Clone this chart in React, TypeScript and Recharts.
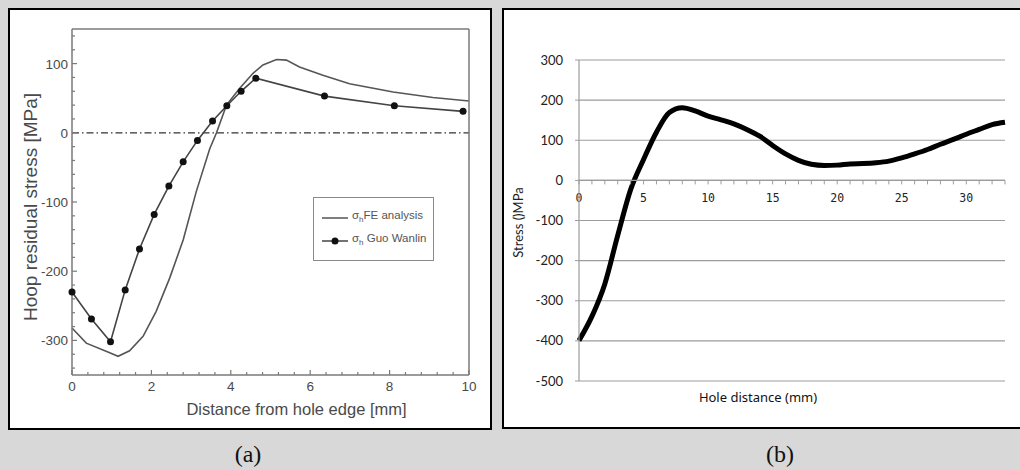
import React from "react";
import {
  LineChart,
  Line,
  XAxis,
  YAxis,
  CartesianGrid,
  ReferenceLine,
  Legend,
} from "recharts";

// ---- panel (a): hoop residual stress ----
const FE_X = [0, 0.36, 0.95, 1.16, 1.45, 1.79, 2.12, 2.46, 2.8, 3.13, 3.47, 3.64, 3.89, 4.22, 4.56, 4.81, 5.15, 5.4, 5.73, 6.32, 6.99, 8.09, 9.09, 10];
const FE_Y = [-282, -304, -318, -323, -315, -294, -258, -210, -155, -85, -23, 0, 40, 64, 86, 98, 106, 105, 95, 83, 71, 59, 51, 46];
const GUO_X = [0, 0.49, 0.97, 1.34, 1.7, 2.07, 2.44, 2.8, 3.16, 3.54, 3.9, 4.26, 4.63, 6.36, 8.12, 9.85];
const GUO_Y = [-230, -269, -302, -227, -168, -118, -77, -42, -11, 17, 39, 60, 79, 53, 39, 31];
const A_X_MAJOR = [0, 2, 4, 6, 8, 10];
const A_Y_MAJOR = [-300, -200, -100, 0, 100];
const A_X_MINOR_STEP = 0.4;
const A_Y_MINOR_STEP = 20;

// ---- panel (b): stress vs hole distance ----
const B_X = [0, 1, 2, 3, 4, 5, 6, 7, 8, 9, 10, 11, 12, 13, 14, 15, 16, 17, 18, 19, 20, 21, 22, 23, 24, 25, 26, 27, 28, 29, 30, 31, 32, 33];
const B_Y = [-399, -339, -258, -137, -23, 52, 120, 169, 181, 173, 160, 151, 141, 127, 110, 87, 66, 50, 40, 37, 38, 41, 42, 44, 48, 56, 66, 77, 90, 102, 115, 127, 139, 145];
const B_Y_TICKS = [-500, -400, -300, -200, -100, 0, 100, 200, 300];
const B_X_LABELS = ["0", "5", "10", "15", "20", "25", "30"];

const feData = FE_X.map((x, i) => ({ x, y: FE_Y[i] }));
const guoData = GUO_X.map((x, i) => ({ x, y: GUO_Y[i] }));
const bData = B_X.map((x, i) => ({ x, y: B_Y[i] }));

const steps = (lo: number, hi: number, step: number) => {
  const out: number[] = [];
  for (let v = lo; v <= hi + 1e-9; v += step) out.push(Math.round(v * 1000) / 1000);
  return out;
};
const aXTicks = steps(0, 10, A_X_MINOR_STEP);
const aYTicks = steps(-340, 140, A_Y_MINOR_STEP);

const A_FONT = "'Liberation Sans', Arial, sans-serif";
const A_INK = "#4a4a4a";
const A_AXIS = "#7a7a7a";

// box-style ticks pointing into the plot
const BoxTick = (props: any) => {
  const { x, y, payload, side, majors, showLabel } = props;
  const v = payload.value;
  const major = majors.includes(v);
  const len = major ? 5 : 3;
  let line;
  let label = null;
  if (side === "bottom") {
    line = <line x1={x} x2={x} y1={y} y2={y - len} stroke={A_AXIS} strokeWidth={1.2} />;
    if (showLabel && major)
      label = (
        <text x={x} y={y + 16} textAnchor="middle" fontSize={13.5} fontFamily={A_FONT} fill={A_INK}>
          {v}
        </text>
      );
  } else if (side === "top") {
    line = <line x1={x} x2={x} y1={y} y2={y + len} stroke={A_AXIS} strokeWidth={1.2} />;
  } else if (side === "left") {
    line = <line x1={x} x2={x + len} y1={y} y2={y} stroke={A_AXIS} strokeWidth={1.2} />;
    if (showLabel && major)
      label = (
        <text x={x - 4} y={y + 5} textAnchor="end" fontSize={13.5} fontFamily={A_FONT} fill={A_INK}>
          {v}
        </text>
      );
  } else {
    line = <line x1={x} x2={x - len} y1={y} y2={y} stroke={A_AXIS} strokeWidth={1.2} />;
  }
  return (
    <g>
      {line}
      {label}
    </g>
  );
};

const RotLabel = (props: any) => {
  const { viewBox, text, dx = 0, dy = 0, size, family, color } = props;
  const cx = viewBox.x + dx;
  const cy = viewBox.y + viewBox.height / 2 + dy;
  return (
    <text
      x={cx}
      y={cy}
      transform={`rotate(-90 ${cx} ${cy})`}
      textAnchor="middle"
      dominantBaseline="central"
      fontSize={size}
      fontFamily={family}
      fill={color}
    >
      {text}
    </text>
  );
};

const BottomLabelA = (props: any) => {
  const { viewBox, text } = props;
  const cx = viewBox.x + viewBox.width / 2 + 26;
  const cy = viewBox.y + 34;
  return (
    <text x={cx} y={cy} textAnchor="middle" dominantBaseline="central" fontSize={16.5} fontFamily={A_FONT} fill={A_INK}>
      {text}
    </text>
  );
};

const LegendBoxA = () => (
  <div
    style={{
      width: 121,
      height: 64,
      boxSizing: "border-box",
      border: "1px solid #8a8a8a",
      background: "#fff",
      fontFamily: A_FONT,
      fontSize: 11.5,
      color: "#555",
      position: "relative",
    }}
  >
    <svg width={28} height={10} style={{ position: "absolute", left: 8, top: 15 }}>
      <line x1={0} x2={26} y1={5} y2={5} stroke="#555" strokeWidth={1.5} />
    </svg>
    <div style={{ position: "absolute", left: 38, top: 11, whiteSpace: "nowrap" }}>
      σ<sub style={{ fontSize: 8 }}>h</sub>FE analysis
    </div>
    <svg width={28} height={10} style={{ position: "absolute", left: 8, top: 38 }}>
      <line x1={0} x2={26} y1={5} y2={5} stroke="#444" strokeWidth={1.5} />
      <circle cx={13} cy={5} r={3.5} fill="#111" />
    </svg>
    <div style={{ position: "absolute", left: 38, top: 34, whiteSpace: "nowrap" }}>
      σ<sub style={{ fontSize: 8 }}>h</sub> Guo Wanlin
    </div>
  </div>
);

function ChartA() {
  return (
    <LineChart width={500} height={440} margin={{ top: 9, right: 11, bottom: 35, left: 22 }}>
      <XAxis
        xAxisId={0}
        type="number"
        dataKey="x"
        domain={[0, 10]}
        ticks={aXTicks}
        interval={0}
        tickSize={0}
        tickMargin={0}
        height={30}
        axisLine={{ stroke: A_AXIS, strokeWidth: 1.5 }}
        tickLine={false}
        tick={<BoxTick side="bottom" majors={A_X_MAJOR} showLabel />}
        label={<BottomLabelA text="Distance from hole edge [mm]" />}
      />
      <XAxis
        xAxisId="top"
        orientation="top"
        type="number"
        dataKey="x"
        domain={[0, 10]}
        ticks={aXTicks}
        interval={0}
        tickSize={0}
        tickMargin={0}
        height={20}
        axisLine={{ stroke: A_AXIS, strokeWidth: 1.5 }}
        tickLine={false}
        tick={<BoxTick side="top" majors={A_X_MAJOR} />}
      />
      <YAxis
        yAxisId={0}
        type="number"
        domain={[-350, 150]}
        ticks={aYTicks}
        interval={0}
        tickSize={0}
        tickMargin={0}
        width={50}
        axisLine={{ stroke: A_AXIS, strokeWidth: 1.5 }}
        tickLine={false}
        tick={<BoxTick side="left" majors={A_Y_MAJOR} showLabel />}
        label={
          <RotLabel
            text="Hoop residual stress [MPa]"
            dx={8}
            dy={5}
            size={19}
            family={A_FONT}
            color={A_INK}
          />
        }
      />
      <YAxis
        yAxisId="right"
        orientation="right"
        type="number"
        domain={[-350, 150]}
        ticks={aYTicks}
        interval={0}
        tickSize={0}
        tickMargin={0}
        width={20}
        axisLine={{ stroke: A_AXIS, strokeWidth: 1.5 }}
        tickLine={false}
        tick={<BoxTick side="right" majors={A_Y_MAJOR} />}
      />
      <ReferenceLine y={0} stroke="#333" strokeWidth={1.2} strokeDasharray="7 3 1.5 3" />
      <Line
        data={feData}
        dataKey="y"
        name="FE analysis"
        type="linear"
        stroke="#555"
        strokeWidth={1.6}
        dot={false}
        isAnimationActive={false}
      />
      <Line
        data={guoData}
        dataKey="y"
        name="Guo Wanlin"
        type="linear"
        stroke="#444"
        strokeWidth={1.6}
        dot={{ r: 3.5, fill: "#111", stroke: "#111", strokeWidth: 0 }}
        isAnimationActive={false}
      />
      <Legend
        layout="horizontal"
        verticalAlign="middle"
        align="center"
        wrapperStyle={{ left: 313, top: 197, width: 121, height: 64 }}
        content={() => <LegendBoxA />}
      />
    </LineChart>
  );
}

const B_GRID = "#9c9c9c";
const B_X_MIN = B_X[0];
const B_X_MAX = B_X[B_X.length - 1];

// category-style axis drawn along y = 0: line, a tick per category, labels every 5
const ZeroAxis = (props: any) => {
  const { x1, y1, x2 } = props;
  const px = (v: number) => x1 + ((v - B_X_MIN) / (B_X_MAX - B_X_MIN)) * (x2 - x1);
  return (
    <g>
      <line x1={x1} x2={x2} y1={y1} y2={y1} stroke={B_GRID} strokeWidth={1.2} />
      {B_X.map((v) => (
        <line key={v} x1={px(v)} x2={px(v)} y1={y1} y2={y1 + 4} stroke={B_GRID} strokeWidth={1} />
      ))}
      {B_X_LABELS.map((s) => (
        <text
          key={"l" + s}
          x={px(Number(s))}
          y={y1 + 22}
          textAnchor="middle"
          fontSize={11.5}
          fontFamily="'DejaVu Sans Mono', monospace"
          fill="#222"
        >
          {s}
        </text>
      ))}
    </g>
  );
};

function ChartB() {
  return (
    <LineChart width={520} height={440} data={bData} margin={{ top: 60, right: 15, bottom: 29, left: 19 }}>
      <CartesianGrid vertical={false} stroke={B_GRID} strokeWidth={1.2} />
      <XAxis
        dataKey="x"
        type="number"
        domain={[B_X_MIN, B_X_MAX]}
        height={30}
        axisLine={false}
        tickLine={false}
        tick={false}
        label={{
          value: "Hole distance (mm)",
          position: "insideTop",
          offset: 12,
          dx: -34,
          fontSize: 13,
          fontFamily: "'Noto Sans', sans-serif",
          fill: "#111",
        }}
      />
      <YAxis
        type="number"
        domain={[-500, 300]}
        ticks={B_Y_TICKS}
        interval={0}
        width={60}
        tickSize={4}
        tickMargin={12}
        axisLine={{ stroke: B_GRID, strokeWidth: 1.2 }}
        tickLine={{ stroke: B_GRID }}
        tick={{ fontSize: 13, fontFamily: "Lato, sans-serif", fill: "#222" }}
        label={
          <RotLabel
            text="Stress ()MPa"
            dx={-1}
            dy={2}
            size={13}
            family="Lato, sans-serif"
            color="#222"
          />
        }
      />
      <Line
        dataKey="y"
        type="monotone"
        stroke="#000"
        strokeWidth={5}
        strokeLinejoin="round"
        dot={false}
        isAnimationActive={false}
      />
      <ReferenceLine y={0} isFront shape={(p: any) => <ZeroAxis {...p} />} />
    </LineChart>
  );
}

export default function App() {
  return (
    <div
      style={{
        position: "absolute",
        left: 0,
        top: 0,
        width: 1020,
        height: 470,
        background: "#d8d8d8",
        overflow: "hidden",
      }}
    >
      <div
        style={{
          position: "absolute",
          left: 8,
          top: 8,
          width: 484,
          height: 422,
          boxSizing: "border-box",
          border: "2px solid #000",
          background: "#fff",
        }}
      />
      <div
        style={{
          position: "absolute",
          left: 502,
          top: 8,
          width: 530,
          height: 421,
          boxSizing: "border-box",
          border: "2px solid #000",
          background: "#fff",
        }}
      />
      <div style={{ position: "absolute", left: 0, top: 0 }}>
        <ChartA />
      </div>
      <div style={{ position: "absolute", left: 500, top: 0 }}>
        <ChartB />
      </div>
      <div
        style={{
          position: "absolute",
          left: 198,
          width: 100,
          top: 441,
          textAlign: "center",
          fontFamily: "'Liberation Serif', serif",
          fontSize: 24,
          lineHeight: "26px",
          color: "#111",
        }}
      >
        (a)
      </div>
      <div
        style={{
          position: "absolute",
          left: 730,
          width: 100,
          top: 441,
          textAlign: "center",
          fontFamily: "'Liberation Serif', serif",
          fontSize: 24,
          lineHeight: "26px",
          color: "#111",
        }}
      >
        (b)
      </div>
    </div>
  );
}
